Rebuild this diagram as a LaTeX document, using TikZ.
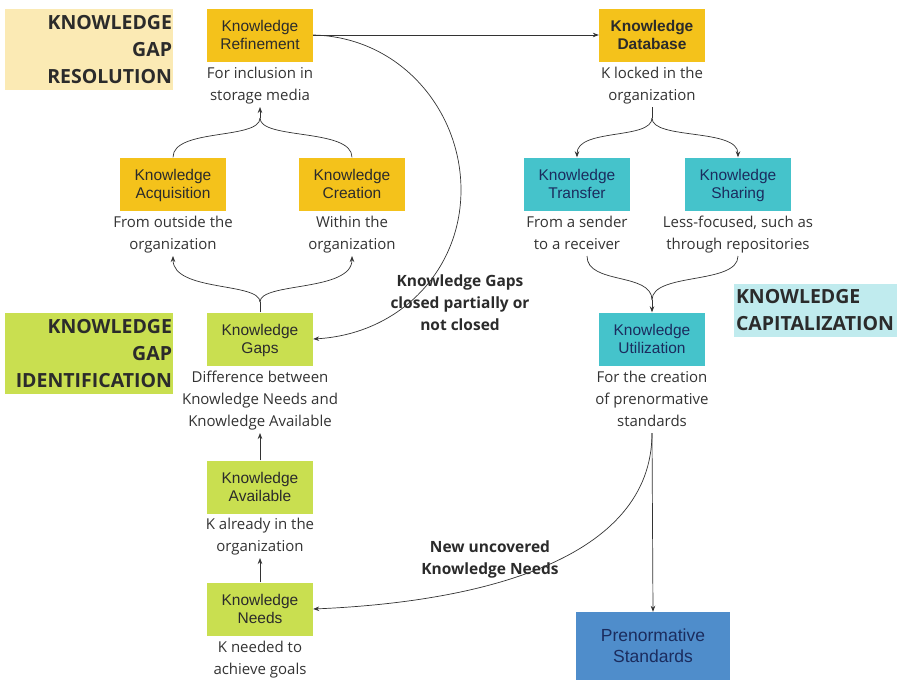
\documentclass[tikz,border=0pt]{standalone}
\usepackage{fontspec}
\setmainfont{Open Sans}
\newfontfamily\arialf{Liberation Sans}
\usetikzlibrary{arrows.meta}
\definecolor{gold}{HTML}{F4C21B}
\definecolor{paleyellow}{HTML}{FBEAB4}
\definecolor{lime}{HTML}{C9DF50}
\definecolor{teal}{HTML}{45C3CB}
\definecolor{palecyan}{HTML}{C0EBEE}
\definecolor{steel}{HTML}{4F8DCB}
\definecolor{navy}{HTML}{1B2C5E}
\definecolor{ink}{HTML}{2B2B2B}
\definecolor{greytext}{HTML}{333333}
\begin{document}
\begin{tikzpicture}[x=1pt,y=-1pt,
  % fixed text height/depth so two-line labels sit at the same place in every box
  kbox/.style={rectangle, minimum width=106pt, minimum height=53pt, inner sep=2pt, align=center,
    font=\arialf\fontsize{15.5}{18}\selectfont, text=ink, text height=36.3pt, text depth=7pt},
  goldbox/.style={kbox, fill=gold},
  limebox/.style={kbox, fill=lime},
  tealbox/.style={kbox, fill=teal, text=navy},
  % captions hang from their south anchor; the last baseline sits 6pt above it
  desc/.style={anchor=south, align=center, inner sep=2pt, text depth=4pt, text=greytext,
    font=\fontsize{15}{22.5}\selectfont},
  midlabel/.style={align=center, inner sep=1pt, text=ink, font=\bfseries\fontsize{15.5}{22}\selectfont},
  phase/.style={inner sep=0pt, text=ink, font=\bfseries\fontsize{19.5}{27}\selectfont},
  link/.style={draw=greytext, line width=0.7pt},
  arr/.style={link, -{Stealth[length=6pt,width=4.5pt]}}
]
\useasboundingbox (0,0) rectangle (897,680);

% phase labels
\node[phase, fill=paleyellow, minimum width=168pt, minimum height=81pt, text width=166pt, align=right] (kgr) at (89,49.5)
  {KNOWLEDGE\\GAP\\RESOLUTION};
\node[phase, fill=lime, minimum width=168pt, minimum height=81pt, text width=166pt, align=right] (kgi) at (89,353.5)
  {KNOWLEDGE\\GAP\\IDENTIFICATION};
\node[phase, fill=palecyan, minimum width=163pt, minimum height=53pt, text width=159pt, align=left] (kc) at (815.5,310.5)
  {KNOWLEDGE\\CAPITALIZATION};

% knowledge gap resolution
\node[goldbox] (ref) at (260,35) {Knowledge\\Refinement};
\node[desc] (refd) at (260,107) {For inclusion in\\storage media};
\node[goldbox] (acq) at (173,184) {Knowledge\\Acquisition};
\node[desc] (acqd) at (173,256) {From outside the\\organization};
\node[goldbox] (cre) at (352,184) {Knowledge\\Creation};
\node[desc] (cred) at (352,256) {Within the\\organization};

% knowledge gap identification
\node[limebox] (gaps) at (260,339) {Knowledge\\Gaps};
\node[desc, font=\fontsize{15}{22}\selectfont] (gapd) at (260,433) {Difference between\\Knowledge Needs and\\Knowledge Available};
\node[limebox] (avail) at (260,487) {Knowledge\\Available};
\node[desc] (availd) at (260,558) {K already in the\\organization};
\node[limebox] (needs) at (260,609) {Knowledge\\Needs};
\node[desc] (needsd) at (260,681) {K needed to\\achieve goals};

% knowledge capitalization
\node[goldbox, font=\arialf\bfseries\fontsize{15.5}{18}\selectfont] (db) at (652,35) {Knowledge\\Database};
\node[desc] (dbd) at (652,107) {K locked in the\\organization};
\node[tealbox] (tr) at (577,184) {Knowledge\\Transfer};
\node[desc] (trd) at (577,256) {From a sender\\to a receiver};
\node[tealbox] (sh) at (738,184) {Knowledge\\Sharing};
\node[desc] (shd) at (738,256) {Less-focused, such as\\through repositories};
\node[tealbox] (ut) at (652,339) {Knowledge\\Utilization};
\node[desc, font=\fontsize{15}{22}\selectfont] (utd) at (652,433) {For the creation\\of prenormative\\standards};
\node[rectangle, fill=steel, minimum width=154pt, minimum height=68pt, align=center, text=navy,
  font=\arialf\fontsize{17.5}{21}\selectfont] (ps) at (653,646) {Prenormative\\Standards};

% connector labels
\node[midlabel] (closedlbl) at (460,303) {Knowledge Gaps\\closed partially or\\not closed};
\node[midlabel] (newlbl) at (490,559) {New uncovered\\Knowledge Needs};

% junction points
\coordinate (jres) at (260,118);
\coordinate (jdb) at (652,118);
\coordinate (jgap) at (260,302);
\coordinate (jcap) at (652,300);
\coordinate (turn) at (461,190);

% connectors
\draw[arr] (ref.east) -- (db.west);
\draw[arr] (ref.east) .. controls (400,37) and (461,110) .. (turn)
  .. controls (461,270) and (400,334) .. (gaps.east);

\draw[link] (acq.north) .. controls (173,128) and (260,140) .. (jres);
\draw[link] (cre.north) .. controls (352,128) and (260,140) .. (jres);
\draw[arr] (jres) -- (refd.south);

\draw[link] (dbd.south) -- (jdb);
\draw[arr] (jdb) .. controls (652,140) and (577,128) .. (tr.north);
\draw[arr] (jdb) .. controls (652,140) and (738,128) .. (sh.north);

\draw[link] (gaps.north) -- (jgap);
\draw[arr] (jgap) .. controls (260,282) and (173,292) .. (acqd.south);
\draw[arr] (jgap) .. controls (260,282) and (352,292) .. (cred.south);

\draw[link] ([xshift=10pt]trd.south) .. controls (587,285) and (652,272) .. (jcap);
\draw[link] (shd.south) .. controls (738,285) and (652,272) .. (jcap);
\draw[arr] (jcap) -- (ut.north);

\draw[arr] (avail.north) -- (gapd.south);
\draw[arr] (needs.north) -- (availd.south);

\draw[arr] (utd.south) .. controls (652,560) and (480,602) .. (needs.east);
\draw[arr] (utd.south) -- (ps.north);
\end{tikzpicture}
\end{document}
